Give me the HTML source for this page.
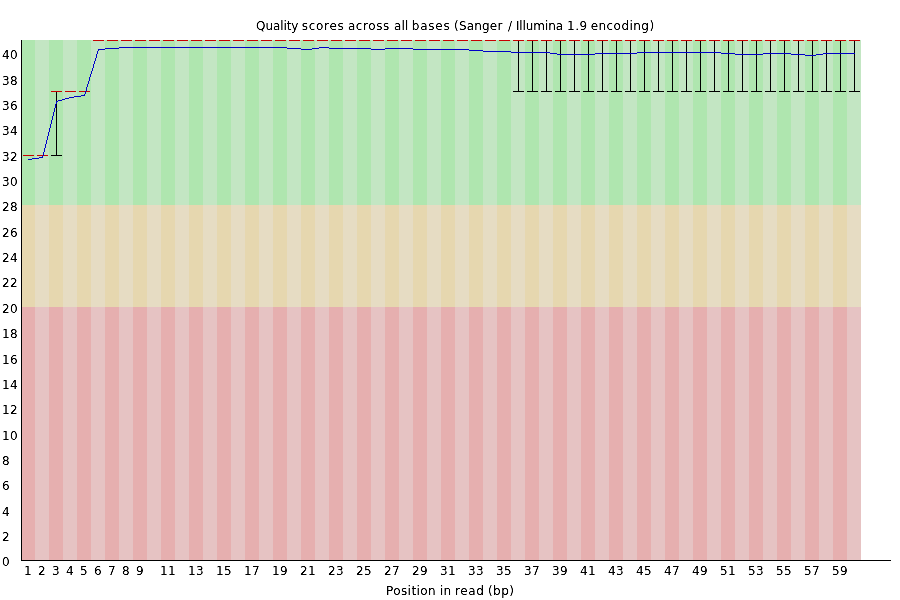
<!DOCTYPE html>
<html lang="en">
<head>
<meta charset="utf-8">
<title>Per base sequence quality</title>
<style>
html,body{margin:0;padding:0;background:#fff;}
body{width:900px;height:600px;overflow:hidden;}
svg{display:block;}
svg text{font-family:"DejaVu Sans","Liberation Sans",sans-serif;font-size:12px;fill:#000;}
</style>
</head>
<body>
<svg width="900" height="600" viewBox="0 0 900 600">
<rect x="0" y="0" width="900" height="600" fill="#fff"/>
<g shape-rendering="crispEdges">
<rect x="21" y="40" width="14" height="165" fill="rgb(175,230,175)"/>
<rect x="21" y="205" width="14" height="102" fill="rgb(230,215,175)"/>
<rect x="21" y="307" width="14" height="253" fill="rgb(230,175,175)"/>
<rect x="35" y="40" width="14" height="165" fill="rgb(195,230,195)"/>
<rect x="35" y="205" width="14" height="102" fill="rgb(230,220,195)"/>
<rect x="35" y="307" width="14" height="253" fill="rgb(230,195,195)"/>
<rect x="49" y="40" width="14" height="165" fill="rgb(175,230,175)"/>
<rect x="49" y="205" width="14" height="102" fill="rgb(230,215,175)"/>
<rect x="49" y="307" width="14" height="253" fill="rgb(230,175,175)"/>
<rect x="63" y="40" width="14" height="165" fill="rgb(195,230,195)"/>
<rect x="63" y="205" width="14" height="102" fill="rgb(230,220,195)"/>
<rect x="63" y="307" width="14" height="253" fill="rgb(230,195,195)"/>
<rect x="77" y="40" width="14" height="165" fill="rgb(175,230,175)"/>
<rect x="77" y="205" width="14" height="102" fill="rgb(230,215,175)"/>
<rect x="77" y="307" width="14" height="253" fill="rgb(230,175,175)"/>
<rect x="91" y="40" width="14" height="165" fill="rgb(195,230,195)"/>
<rect x="91" y="205" width="14" height="102" fill="rgb(230,220,195)"/>
<rect x="91" y="307" width="14" height="253" fill="rgb(230,195,195)"/>
<rect x="105" y="40" width="14" height="165" fill="rgb(175,230,175)"/>
<rect x="105" y="205" width="14" height="102" fill="rgb(230,215,175)"/>
<rect x="105" y="307" width="14" height="253" fill="rgb(230,175,175)"/>
<rect x="119" y="40" width="14" height="165" fill="rgb(195,230,195)"/>
<rect x="119" y="205" width="14" height="102" fill="rgb(230,220,195)"/>
<rect x="119" y="307" width="14" height="253" fill="rgb(230,195,195)"/>
<rect x="133" y="40" width="14" height="165" fill="rgb(175,230,175)"/>
<rect x="133" y="205" width="14" height="102" fill="rgb(230,215,175)"/>
<rect x="133" y="307" width="14" height="253" fill="rgb(230,175,175)"/>
<rect x="147" y="40" width="14" height="165" fill="rgb(195,230,195)"/>
<rect x="147" y="205" width="14" height="102" fill="rgb(230,220,195)"/>
<rect x="147" y="307" width="14" height="253" fill="rgb(230,195,195)"/>
<rect x="161" y="40" width="14" height="165" fill="rgb(175,230,175)"/>
<rect x="161" y="205" width="14" height="102" fill="rgb(230,215,175)"/>
<rect x="161" y="307" width="14" height="253" fill="rgb(230,175,175)"/>
<rect x="175" y="40" width="14" height="165" fill="rgb(195,230,195)"/>
<rect x="175" y="205" width="14" height="102" fill="rgb(230,220,195)"/>
<rect x="175" y="307" width="14" height="253" fill="rgb(230,195,195)"/>
<rect x="189" y="40" width="14" height="165" fill="rgb(175,230,175)"/>
<rect x="189" y="205" width="14" height="102" fill="rgb(230,215,175)"/>
<rect x="189" y="307" width="14" height="253" fill="rgb(230,175,175)"/>
<rect x="203" y="40" width="14" height="165" fill="rgb(195,230,195)"/>
<rect x="203" y="205" width="14" height="102" fill="rgb(230,220,195)"/>
<rect x="203" y="307" width="14" height="253" fill="rgb(230,195,195)"/>
<rect x="217" y="40" width="14" height="165" fill="rgb(175,230,175)"/>
<rect x="217" y="205" width="14" height="102" fill="rgb(230,215,175)"/>
<rect x="217" y="307" width="14" height="253" fill="rgb(230,175,175)"/>
<rect x="231" y="40" width="14" height="165" fill="rgb(195,230,195)"/>
<rect x="231" y="205" width="14" height="102" fill="rgb(230,220,195)"/>
<rect x="231" y="307" width="14" height="253" fill="rgb(230,195,195)"/>
<rect x="245" y="40" width="14" height="165" fill="rgb(175,230,175)"/>
<rect x="245" y="205" width="14" height="102" fill="rgb(230,215,175)"/>
<rect x="245" y="307" width="14" height="253" fill="rgb(230,175,175)"/>
<rect x="259" y="40" width="14" height="165" fill="rgb(195,230,195)"/>
<rect x="259" y="205" width="14" height="102" fill="rgb(230,220,195)"/>
<rect x="259" y="307" width="14" height="253" fill="rgb(230,195,195)"/>
<rect x="273" y="40" width="14" height="165" fill="rgb(175,230,175)"/>
<rect x="273" y="205" width="14" height="102" fill="rgb(230,215,175)"/>
<rect x="273" y="307" width="14" height="253" fill="rgb(230,175,175)"/>
<rect x="287" y="40" width="14" height="165" fill="rgb(195,230,195)"/>
<rect x="287" y="205" width="14" height="102" fill="rgb(230,220,195)"/>
<rect x="287" y="307" width="14" height="253" fill="rgb(230,195,195)"/>
<rect x="301" y="40" width="14" height="165" fill="rgb(175,230,175)"/>
<rect x="301" y="205" width="14" height="102" fill="rgb(230,215,175)"/>
<rect x="301" y="307" width="14" height="253" fill="rgb(230,175,175)"/>
<rect x="315" y="40" width="14" height="165" fill="rgb(195,230,195)"/>
<rect x="315" y="205" width="14" height="102" fill="rgb(230,220,195)"/>
<rect x="315" y="307" width="14" height="253" fill="rgb(230,195,195)"/>
<rect x="329" y="40" width="14" height="165" fill="rgb(175,230,175)"/>
<rect x="329" y="205" width="14" height="102" fill="rgb(230,215,175)"/>
<rect x="329" y="307" width="14" height="253" fill="rgb(230,175,175)"/>
<rect x="343" y="40" width="14" height="165" fill="rgb(195,230,195)"/>
<rect x="343" y="205" width="14" height="102" fill="rgb(230,220,195)"/>
<rect x="343" y="307" width="14" height="253" fill="rgb(230,195,195)"/>
<rect x="357" y="40" width="14" height="165" fill="rgb(175,230,175)"/>
<rect x="357" y="205" width="14" height="102" fill="rgb(230,215,175)"/>
<rect x="357" y="307" width="14" height="253" fill="rgb(230,175,175)"/>
<rect x="371" y="40" width="14" height="165" fill="rgb(195,230,195)"/>
<rect x="371" y="205" width="14" height="102" fill="rgb(230,220,195)"/>
<rect x="371" y="307" width="14" height="253" fill="rgb(230,195,195)"/>
<rect x="385" y="40" width="14" height="165" fill="rgb(175,230,175)"/>
<rect x="385" y="205" width="14" height="102" fill="rgb(230,215,175)"/>
<rect x="385" y="307" width="14" height="253" fill="rgb(230,175,175)"/>
<rect x="399" y="40" width="14" height="165" fill="rgb(195,230,195)"/>
<rect x="399" y="205" width="14" height="102" fill="rgb(230,220,195)"/>
<rect x="399" y="307" width="14" height="253" fill="rgb(230,195,195)"/>
<rect x="413" y="40" width="14" height="165" fill="rgb(175,230,175)"/>
<rect x="413" y="205" width="14" height="102" fill="rgb(230,215,175)"/>
<rect x="413" y="307" width="14" height="253" fill="rgb(230,175,175)"/>
<rect x="427" y="40" width="14" height="165" fill="rgb(195,230,195)"/>
<rect x="427" y="205" width="14" height="102" fill="rgb(230,220,195)"/>
<rect x="427" y="307" width="14" height="253" fill="rgb(230,195,195)"/>
<rect x="441" y="40" width="14" height="165" fill="rgb(175,230,175)"/>
<rect x="441" y="205" width="14" height="102" fill="rgb(230,215,175)"/>
<rect x="441" y="307" width="14" height="253" fill="rgb(230,175,175)"/>
<rect x="455" y="40" width="14" height="165" fill="rgb(195,230,195)"/>
<rect x="455" y="205" width="14" height="102" fill="rgb(230,220,195)"/>
<rect x="455" y="307" width="14" height="253" fill="rgb(230,195,195)"/>
<rect x="469" y="40" width="14" height="165" fill="rgb(175,230,175)"/>
<rect x="469" y="205" width="14" height="102" fill="rgb(230,215,175)"/>
<rect x="469" y="307" width="14" height="253" fill="rgb(230,175,175)"/>
<rect x="483" y="40" width="14" height="165" fill="rgb(195,230,195)"/>
<rect x="483" y="205" width="14" height="102" fill="rgb(230,220,195)"/>
<rect x="483" y="307" width="14" height="253" fill="rgb(230,195,195)"/>
<rect x="497" y="40" width="14" height="165" fill="rgb(175,230,175)"/>
<rect x="497" y="205" width="14" height="102" fill="rgb(230,215,175)"/>
<rect x="497" y="307" width="14" height="253" fill="rgb(230,175,175)"/>
<rect x="511" y="40" width="14" height="165" fill="rgb(195,230,195)"/>
<rect x="511" y="205" width="14" height="102" fill="rgb(230,220,195)"/>
<rect x="511" y="307" width="14" height="253" fill="rgb(230,195,195)"/>
<rect x="525" y="40" width="14" height="165" fill="rgb(175,230,175)"/>
<rect x="525" y="205" width="14" height="102" fill="rgb(230,215,175)"/>
<rect x="525" y="307" width="14" height="253" fill="rgb(230,175,175)"/>
<rect x="539" y="40" width="14" height="165" fill="rgb(195,230,195)"/>
<rect x="539" y="205" width="14" height="102" fill="rgb(230,220,195)"/>
<rect x="539" y="307" width="14" height="253" fill="rgb(230,195,195)"/>
<rect x="553" y="40" width="14" height="165" fill="rgb(175,230,175)"/>
<rect x="553" y="205" width="14" height="102" fill="rgb(230,215,175)"/>
<rect x="553" y="307" width="14" height="253" fill="rgb(230,175,175)"/>
<rect x="567" y="40" width="14" height="165" fill="rgb(195,230,195)"/>
<rect x="567" y="205" width="14" height="102" fill="rgb(230,220,195)"/>
<rect x="567" y="307" width="14" height="253" fill="rgb(230,195,195)"/>
<rect x="581" y="40" width="14" height="165" fill="rgb(175,230,175)"/>
<rect x="581" y="205" width="14" height="102" fill="rgb(230,215,175)"/>
<rect x="581" y="307" width="14" height="253" fill="rgb(230,175,175)"/>
<rect x="595" y="40" width="14" height="165" fill="rgb(195,230,195)"/>
<rect x="595" y="205" width="14" height="102" fill="rgb(230,220,195)"/>
<rect x="595" y="307" width="14" height="253" fill="rgb(230,195,195)"/>
<rect x="609" y="40" width="14" height="165" fill="rgb(175,230,175)"/>
<rect x="609" y="205" width="14" height="102" fill="rgb(230,215,175)"/>
<rect x="609" y="307" width="14" height="253" fill="rgb(230,175,175)"/>
<rect x="623" y="40" width="14" height="165" fill="rgb(195,230,195)"/>
<rect x="623" y="205" width="14" height="102" fill="rgb(230,220,195)"/>
<rect x="623" y="307" width="14" height="253" fill="rgb(230,195,195)"/>
<rect x="637" y="40" width="14" height="165" fill="rgb(175,230,175)"/>
<rect x="637" y="205" width="14" height="102" fill="rgb(230,215,175)"/>
<rect x="637" y="307" width="14" height="253" fill="rgb(230,175,175)"/>
<rect x="651" y="40" width="14" height="165" fill="rgb(195,230,195)"/>
<rect x="651" y="205" width="14" height="102" fill="rgb(230,220,195)"/>
<rect x="651" y="307" width="14" height="253" fill="rgb(230,195,195)"/>
<rect x="665" y="40" width="14" height="165" fill="rgb(175,230,175)"/>
<rect x="665" y="205" width="14" height="102" fill="rgb(230,215,175)"/>
<rect x="665" y="307" width="14" height="253" fill="rgb(230,175,175)"/>
<rect x="679" y="40" width="14" height="165" fill="rgb(195,230,195)"/>
<rect x="679" y="205" width="14" height="102" fill="rgb(230,220,195)"/>
<rect x="679" y="307" width="14" height="253" fill="rgb(230,195,195)"/>
<rect x="693" y="40" width="14" height="165" fill="rgb(175,230,175)"/>
<rect x="693" y="205" width="14" height="102" fill="rgb(230,215,175)"/>
<rect x="693" y="307" width="14" height="253" fill="rgb(230,175,175)"/>
<rect x="707" y="40" width="14" height="165" fill="rgb(195,230,195)"/>
<rect x="707" y="205" width="14" height="102" fill="rgb(230,220,195)"/>
<rect x="707" y="307" width="14" height="253" fill="rgb(230,195,195)"/>
<rect x="721" y="40" width="14" height="165" fill="rgb(175,230,175)"/>
<rect x="721" y="205" width="14" height="102" fill="rgb(230,215,175)"/>
<rect x="721" y="307" width="14" height="253" fill="rgb(230,175,175)"/>
<rect x="735" y="40" width="14" height="165" fill="rgb(195,230,195)"/>
<rect x="735" y="205" width="14" height="102" fill="rgb(230,220,195)"/>
<rect x="735" y="307" width="14" height="253" fill="rgb(230,195,195)"/>
<rect x="749" y="40" width="14" height="165" fill="rgb(175,230,175)"/>
<rect x="749" y="205" width="14" height="102" fill="rgb(230,215,175)"/>
<rect x="749" y="307" width="14" height="253" fill="rgb(230,175,175)"/>
<rect x="763" y="40" width="14" height="165" fill="rgb(195,230,195)"/>
<rect x="763" y="205" width="14" height="102" fill="rgb(230,220,195)"/>
<rect x="763" y="307" width="14" height="253" fill="rgb(230,195,195)"/>
<rect x="777" y="40" width="14" height="165" fill="rgb(175,230,175)"/>
<rect x="777" y="205" width="14" height="102" fill="rgb(230,215,175)"/>
<rect x="777" y="307" width="14" height="253" fill="rgb(230,175,175)"/>
<rect x="791" y="40" width="14" height="165" fill="rgb(195,230,195)"/>
<rect x="791" y="205" width="14" height="102" fill="rgb(230,220,195)"/>
<rect x="791" y="307" width="14" height="253" fill="rgb(230,195,195)"/>
<rect x="805" y="40" width="14" height="165" fill="rgb(175,230,175)"/>
<rect x="805" y="205" width="14" height="102" fill="rgb(230,215,175)"/>
<rect x="805" y="307" width="14" height="253" fill="rgb(230,175,175)"/>
<rect x="819" y="40" width="14" height="165" fill="rgb(195,230,195)"/>
<rect x="819" y="205" width="14" height="102" fill="rgb(230,220,195)"/>
<rect x="819" y="307" width="14" height="253" fill="rgb(230,195,195)"/>
<rect x="833" y="40" width="14" height="165" fill="rgb(175,230,175)"/>
<rect x="833" y="205" width="14" height="102" fill="rgb(230,215,175)"/>
<rect x="833" y="307" width="14" height="253" fill="rgb(230,175,175)"/>
<rect x="847" y="40" width="14" height="165" fill="rgb(195,230,195)"/>
<rect x="847" y="205" width="14" height="102" fill="rgb(230,220,195)"/>
<rect x="847" y="307" width="14" height="253" fill="rgb(230,195,195)"/>
<rect x="21" y="560" width="870" height="1" fill="#000"/>
<rect x="21" y="40" width="1" height="521" fill="#000"/>
<rect x="23" y="155" width="11" height="1" fill="rgb(200,0,0)"/>
<rect x="37" y="155" width="11" height="1" fill="rgb(200,0,0)"/>
<rect x="56" y="91" width="1" height="65" fill="#000"/>
<rect x="51" y="155" width="11" height="1" fill="#000"/>
<rect x="51" y="91" width="11" height="1" fill="rgb(200,0,0)"/>
<rect x="65" y="91" width="11" height="1" fill="rgb(200,0,0)"/>
<rect x="79" y="91" width="11" height="1" fill="rgb(200,0,0)"/>
<rect x="93" y="40" width="11" height="1" fill="rgb(200,0,0)"/>
<rect x="107" y="40" width="11" height="1" fill="rgb(200,0,0)"/>
<rect x="121" y="40" width="11" height="1" fill="rgb(200,0,0)"/>
<rect x="135" y="40" width="11" height="1" fill="rgb(200,0,0)"/>
<rect x="149" y="40" width="11" height="1" fill="rgb(200,0,0)"/>
<rect x="163" y="40" width="11" height="1" fill="rgb(200,0,0)"/>
<rect x="177" y="40" width="11" height="1" fill="rgb(200,0,0)"/>
<rect x="191" y="40" width="11" height="1" fill="rgb(200,0,0)"/>
<rect x="205" y="40" width="11" height="1" fill="rgb(200,0,0)"/>
<rect x="219" y="40" width="11" height="1" fill="rgb(200,0,0)"/>
<rect x="233" y="40" width="11" height="1" fill="rgb(200,0,0)"/>
<rect x="247" y="40" width="11" height="1" fill="rgb(200,0,0)"/>
<rect x="261" y="40" width="11" height="1" fill="rgb(200,0,0)"/>
<rect x="275" y="40" width="11" height="1" fill="rgb(200,0,0)"/>
<rect x="289" y="40" width="11" height="1" fill="rgb(200,0,0)"/>
<rect x="303" y="40" width="11" height="1" fill="rgb(200,0,0)"/>
<rect x="317" y="40" width="11" height="1" fill="rgb(200,0,0)"/>
<rect x="331" y="40" width="11" height="1" fill="rgb(200,0,0)"/>
<rect x="345" y="40" width="11" height="1" fill="rgb(200,0,0)"/>
<rect x="359" y="40" width="11" height="1" fill="rgb(200,0,0)"/>
<rect x="373" y="40" width="11" height="1" fill="rgb(200,0,0)"/>
<rect x="387" y="40" width="11" height="1" fill="rgb(200,0,0)"/>
<rect x="401" y="40" width="11" height="1" fill="rgb(200,0,0)"/>
<rect x="415" y="40" width="11" height="1" fill="rgb(200,0,0)"/>
<rect x="429" y="40" width="11" height="1" fill="rgb(200,0,0)"/>
<rect x="443" y="40" width="11" height="1" fill="rgb(200,0,0)"/>
<rect x="457" y="40" width="11" height="1" fill="rgb(200,0,0)"/>
<rect x="471" y="40" width="11" height="1" fill="rgb(200,0,0)"/>
<rect x="485" y="40" width="11" height="1" fill="rgb(200,0,0)"/>
<rect x="499" y="40" width="11" height="1" fill="rgb(200,0,0)"/>
<rect x="518" y="40" width="1" height="52" fill="#000"/>
<rect x="513" y="91" width="11" height="1" fill="#000"/>
<rect x="513" y="40" width="11" height="1" fill="rgb(200,0,0)"/>
<rect x="532" y="40" width="1" height="52" fill="#000"/>
<rect x="527" y="91" width="11" height="1" fill="#000"/>
<rect x="527" y="40" width="11" height="1" fill="rgb(200,0,0)"/>
<rect x="546" y="40" width="1" height="52" fill="#000"/>
<rect x="541" y="91" width="11" height="1" fill="#000"/>
<rect x="541" y="40" width="11" height="1" fill="rgb(200,0,0)"/>
<rect x="560" y="40" width="1" height="52" fill="#000"/>
<rect x="555" y="91" width="11" height="1" fill="#000"/>
<rect x="555" y="40" width="11" height="1" fill="rgb(200,0,0)"/>
<rect x="574" y="40" width="1" height="52" fill="#000"/>
<rect x="569" y="91" width="11" height="1" fill="#000"/>
<rect x="569" y="40" width="11" height="1" fill="rgb(200,0,0)"/>
<rect x="588" y="40" width="1" height="52" fill="#000"/>
<rect x="583" y="91" width="11" height="1" fill="#000"/>
<rect x="583" y="40" width="11" height="1" fill="rgb(200,0,0)"/>
<rect x="602" y="40" width="1" height="52" fill="#000"/>
<rect x="597" y="91" width="11" height="1" fill="#000"/>
<rect x="597" y="40" width="11" height="1" fill="rgb(200,0,0)"/>
<rect x="616" y="40" width="1" height="52" fill="#000"/>
<rect x="611" y="91" width="11" height="1" fill="#000"/>
<rect x="611" y="40" width="11" height="1" fill="rgb(200,0,0)"/>
<rect x="630" y="40" width="1" height="52" fill="#000"/>
<rect x="625" y="91" width="11" height="1" fill="#000"/>
<rect x="625" y="40" width="11" height="1" fill="rgb(200,0,0)"/>
<rect x="644" y="40" width="1" height="52" fill="#000"/>
<rect x="639" y="91" width="11" height="1" fill="#000"/>
<rect x="639" y="40" width="11" height="1" fill="rgb(200,0,0)"/>
<rect x="658" y="40" width="1" height="52" fill="#000"/>
<rect x="653" y="91" width="11" height="1" fill="#000"/>
<rect x="653" y="40" width="11" height="1" fill="rgb(200,0,0)"/>
<rect x="672" y="40" width="1" height="52" fill="#000"/>
<rect x="667" y="91" width="11" height="1" fill="#000"/>
<rect x="667" y="40" width="11" height="1" fill="rgb(200,0,0)"/>
<rect x="686" y="40" width="1" height="52" fill="#000"/>
<rect x="681" y="91" width="11" height="1" fill="#000"/>
<rect x="681" y="40" width="11" height="1" fill="rgb(200,0,0)"/>
<rect x="700" y="40" width="1" height="52" fill="#000"/>
<rect x="695" y="91" width="11" height="1" fill="#000"/>
<rect x="695" y="40" width="11" height="1" fill="rgb(200,0,0)"/>
<rect x="714" y="40" width="1" height="52" fill="#000"/>
<rect x="709" y="91" width="11" height="1" fill="#000"/>
<rect x="709" y="40" width="11" height="1" fill="rgb(200,0,0)"/>
<rect x="728" y="40" width="1" height="52" fill="#000"/>
<rect x="723" y="91" width="11" height="1" fill="#000"/>
<rect x="723" y="40" width="11" height="1" fill="rgb(200,0,0)"/>
<rect x="742" y="40" width="1" height="52" fill="#000"/>
<rect x="737" y="91" width="11" height="1" fill="#000"/>
<rect x="737" y="40" width="11" height="1" fill="rgb(200,0,0)"/>
<rect x="756" y="40" width="1" height="52" fill="#000"/>
<rect x="751" y="91" width="11" height="1" fill="#000"/>
<rect x="751" y="40" width="11" height="1" fill="rgb(200,0,0)"/>
<rect x="770" y="40" width="1" height="52" fill="#000"/>
<rect x="765" y="91" width="11" height="1" fill="#000"/>
<rect x="765" y="40" width="11" height="1" fill="rgb(200,0,0)"/>
<rect x="784" y="40" width="1" height="52" fill="#000"/>
<rect x="779" y="91" width="11" height="1" fill="#000"/>
<rect x="779" y="40" width="11" height="1" fill="rgb(200,0,0)"/>
<rect x="798" y="40" width="1" height="52" fill="#000"/>
<rect x="793" y="91" width="11" height="1" fill="#000"/>
<rect x="793" y="40" width="11" height="1" fill="rgb(200,0,0)"/>
<rect x="812" y="40" width="1" height="52" fill="#000"/>
<rect x="807" y="91" width="11" height="1" fill="#000"/>
<rect x="807" y="40" width="11" height="1" fill="rgb(200,0,0)"/>
<rect x="826" y="40" width="1" height="52" fill="#000"/>
<rect x="821" y="91" width="11" height="1" fill="#000"/>
<rect x="821" y="40" width="11" height="1" fill="rgb(200,0,0)"/>
<rect x="840" y="40" width="1" height="52" fill="#000"/>
<rect x="835" y="91" width="11" height="1" fill="#000"/>
<rect x="835" y="40" width="11" height="1" fill="rgb(200,0,0)"/>
<rect x="854" y="40" width="1" height="52" fill="#000"/>
<rect x="849" y="91" width="11" height="1" fill="#000"/>
<rect x="849" y="40" width="11" height="1" fill="rgb(200,0,0)"/>
<rect x="28" y="159" width="4" height="1" fill="rgb(0,0,200)"/>
<rect x="32" y="158" width="7" height="1" fill="rgb(0,0,200)"/>
<rect x="39" y="157" width="4" height="1" fill="rgb(0,0,200)"/>
<rect x="42" y="156" width="1" height="1" fill="rgb(0,0,200)"/>
<rect x="43" y="152" width="1" height="4" fill="rgb(0,0,200)"/>
<rect x="44" y="148" width="1" height="4" fill="rgb(0,0,200)"/>
<rect x="45" y="144" width="1" height="4" fill="rgb(0,0,200)"/>
<rect x="46" y="140" width="1" height="4" fill="rgb(0,0,200)"/>
<rect x="47" y="136" width="1" height="4" fill="rgb(0,0,200)"/>
<rect x="48" y="132" width="1" height="4" fill="rgb(0,0,200)"/>
<rect x="49" y="128" width="1" height="4" fill="rgb(0,0,200)"/>
<rect x="50" y="124" width="1" height="4" fill="rgb(0,0,200)"/>
<rect x="51" y="120" width="1" height="4" fill="rgb(0,0,200)"/>
<rect x="52" y="116" width="1" height="4" fill="rgb(0,0,200)"/>
<rect x="53" y="112" width="1" height="4" fill="rgb(0,0,200)"/>
<rect x="54" y="108" width="1" height="4" fill="rgb(0,0,200)"/>
<rect x="55" y="104" width="1" height="4" fill="rgb(0,0,200)"/>
<rect x="56" y="102" width="1" height="2" fill="rgb(0,0,200)"/>
<rect x="56" y="101" width="2" height="1" fill="rgb(0,0,200)"/>
<rect x="58" y="100" width="4" height="1" fill="rgb(0,0,200)"/>
<rect x="62" y="99" width="3" height="1" fill="rgb(0,0,200)"/>
<rect x="65" y="98" width="4" height="1" fill="rgb(0,0,200)"/>
<rect x="69" y="97" width="5" height="1" fill="rgb(0,0,200)"/>
<rect x="74" y="96" width="7" height="1" fill="rgb(0,0,200)"/>
<rect x="81" y="95" width="4" height="1" fill="rgb(0,0,200)"/>
<rect x="84" y="94" width="1" height="1" fill="rgb(0,0,200)"/>
<rect x="85" y="91" width="1" height="3" fill="rgb(0,0,200)"/>
<rect x="86" y="87" width="1" height="4" fill="rgb(0,0,200)"/>
<rect x="87" y="84" width="1" height="3" fill="rgb(0,0,200)"/>
<rect x="88" y="81" width="1" height="3" fill="rgb(0,0,200)"/>
<rect x="89" y="77" width="1" height="4" fill="rgb(0,0,200)"/>
<rect x="90" y="74" width="1" height="3" fill="rgb(0,0,200)"/>
<rect x="91" y="71" width="1" height="3" fill="rgb(0,0,200)"/>
<rect x="92" y="68" width="1" height="3" fill="rgb(0,0,200)"/>
<rect x="93" y="64" width="1" height="4" fill="rgb(0,0,200)"/>
<rect x="94" y="61" width="1" height="3" fill="rgb(0,0,200)"/>
<rect x="95" y="58" width="1" height="3" fill="rgb(0,0,200)"/>
<rect x="96" y="54" width="1" height="4" fill="rgb(0,0,200)"/>
<rect x="97" y="51" width="1" height="3" fill="rgb(0,0,200)"/>
<rect x="98" y="50" width="1" height="1" fill="rgb(0,0,200)"/>
<rect x="98" y="49" width="7" height="1" fill="rgb(0,0,200)"/>
<rect x="105" y="48" width="14" height="1" fill="rgb(0,0,200)"/>
<rect x="119" y="47" width="168" height="1" fill="rgb(0,0,200)"/>
<rect x="287" y="48" width="14" height="1" fill="rgb(0,0,200)"/>
<rect x="301" y="49" width="11" height="1" fill="rgb(0,0,200)"/>
<rect x="312" y="48" width="7" height="1" fill="rgb(0,0,200)"/>
<rect x="319" y="47" width="10" height="1" fill="rgb(0,0,200)"/>
<rect x="329" y="48" width="42" height="1" fill="rgb(0,0,200)"/>
<rect x="371" y="49" width="14" height="1" fill="rgb(0,0,200)"/>
<rect x="385" y="48" width="28" height="1" fill="rgb(0,0,200)"/>
<rect x="413" y="49" width="56" height="1" fill="rgb(0,0,200)"/>
<rect x="469" y="50" width="14" height="1" fill="rgb(0,0,200)"/>
<rect x="483" y="51" width="28" height="1" fill="rgb(0,0,200)"/>
<rect x="511" y="52" width="39" height="1" fill="rgb(0,0,200)"/>
<rect x="550" y="53" width="7" height="1" fill="rgb(0,0,200)"/>
<rect x="557" y="54" width="38" height="1" fill="rgb(0,0,200)"/>
<rect x="595" y="53" width="42" height="1" fill="rgb(0,0,200)"/>
<rect x="637" y="52" width="84" height="1" fill="rgb(0,0,200)"/>
<rect x="721" y="53" width="14" height="1" fill="rgb(0,0,200)"/>
<rect x="735" y="54" width="28" height="1" fill="rgb(0,0,200)"/>
<rect x="763" y="53" width="28" height="1" fill="rgb(0,0,200)"/>
<rect x="791" y="54" width="14" height="1" fill="rgb(0,0,200)"/>
<rect x="805" y="55" width="11" height="1" fill="rgb(0,0,200)"/>
<rect x="816" y="54" width="7" height="1" fill="rgb(0,0,200)"/>
<rect x="823" y="53" width="32" height="1" fill="rgb(0,0,200)"/>
</g>
<defs><filter id="txt" x="0" y="0" width="900" height="600" filterUnits="userSpaceOnUse" color-interpolation-filters="sRGB"><feComponentTransfer><feFuncA type="table" tableValues="0 0.1 0.55 1 1"/></feComponentTransfer></filter></defs>
<g filter="url(#txt)">
<text x="2" y="566">0</text>
<text x="2" y="541">2</text>
<text x="2" y="516">4</text>
<text x="2" y="490">6</text>
<text x="2" y="465">8</text>
<text x="2 10" y="440">10</text>
<text x="2 10" y="414">12</text>
<text x="2 10" y="389">14</text>
<text x="2 10" y="364">16</text>
<text x="2 10" y="338">18</text>
<text x="2 10" y="313">20</text>
<text x="2 10" y="287">22</text>
<text x="2 10" y="262">24</text>
<text x="2 10" y="237">26</text>
<text x="2 10" y="211">28</text>
<text x="2 10" y="186">30</text>
<text x="2 10" y="161">32</text>
<text x="2 10" y="135">34</text>
<text x="2 10" y="110">36</text>
<text x="2 10" y="85">38</text>
<text x="2 10" y="59">40</text>
<text x="24" y="575">1</text>
<text x="38" y="575">2</text>
<text x="52" y="575">3</text>
<text x="66" y="575">4</text>
<text x="80" y="575">5</text>
<text x="94" y="575">6</text>
<text x="108" y="575">7</text>
<text x="122" y="575">8</text>
<text x="136" y="575">9</text>
<text x="160 168" y="575">11</text>
<text x="188 196" y="575">13</text>
<text x="216 224" y="575">15</text>
<text x="244 252" y="575">17</text>
<text x="272 280" y="575">19</text>
<text x="300 308" y="575">21</text>
<text x="328 336" y="575">23</text>
<text x="356 364" y="575">25</text>
<text x="384 392" y="575">27</text>
<text x="412 420" y="575">29</text>
<text x="440 448" y="575">31</text>
<text x="468 476" y="575">33</text>
<text x="496 504" y="575">35</text>
<text x="524 532" y="575">37</text>
<text x="552 560" y="575">39</text>
<text x="580 588" y="575">41</text>
<text x="608 616" y="575">43</text>
<text x="636 644" y="575">45</text>
<text x="664 672" y="575">47</text>
<text x="692 700" y="575">49</text>
<text x="720 728" y="575">51</text>
<text x="748 756" y="575">53</text>
<text x="776 784" y="575">55</text>
<text x="804 812" y="575">57</text>
<text x="832 840" y="575">59</text>
<text x="256.0" y="30" letter-spacing="-0.07">Quality</text>
<text x="301.8" y="30" letter-spacing="0.70">scores</text>
<text x="347.9" y="30" letter-spacing="0.60">across</text>
<text x="394.0" y="30" letter-spacing="0.10">all</text>
<text x="411.8" y="30" letter-spacing="0.77">bases</text>
<text x="454.0" y="30" letter-spacing="0.20">(Sanger</text>
<text x="508.0" y="30">/</text>
<text x="515.9" y="30" letter-spacing="-0.10">Illumina</text>
<text x="567.0" y="30" letter-spacing="0.55">1.9</text>
<text x="590.7" y="30" letter-spacing="0.45">encoding)</text>
<text x="385.9" y="595" letter-spacing="0.44">Position</text>
<text x="439.9" y="595" letter-spacing="0.30">in</text>
<text x="455.1" y="595" letter-spacing="0.57">read</text>
<text x="487.9" y="595" letter-spacing="0.47">(bp)</text>
</g>
</svg>
</body>
</html>
